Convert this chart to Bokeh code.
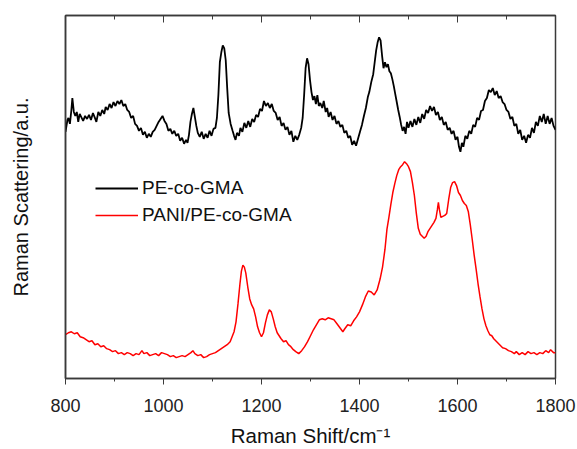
from bokeh.plotting import figure
from bokeh.models import Range1d, SingleIntervalTicker, FixedTicker, LinearAxis, CustomJSTickFormatter
from bokeh.embed import file_html
from bokeh.resources import INLINE

# Raman shift (cm^-1) and scattering intensity (a.u., read downward from top reference)
pe_shift = [800, 804, 806, 809, 812, 814, 817, 820, 823, 826, 829, 832, 836, 840, 844, 848, 852, 856, 860, 863,
            867, 871, 875, 879, 882, 886, 890, 894, 898, 902, 906, 910, 914, 918, 922, 926, 930, 934, 938, 942,
            946, 950, 954, 958, 962, 966, 970, 974, 978, 982, 986, 990, 994, 998, 1002, 1006, 1010, 1014, 1018, 1022,
            1026, 1030, 1034, 1038, 1042, 1046, 1049, 1052, 1055, 1058, 1061, 1064, 1067, 1070, 1074, 1078, 1082, 1086, 1090, 1094,
            1098, 1102, 1106, 1109, 1112, 1115, 1118, 1121, 1124, 1127, 1130, 1133, 1137, 1141, 1144, 1147, 1150, 1154, 1157, 1161,
            1165, 1169, 1173, 1177, 1181, 1185, 1189, 1193, 1197, 1201, 1205, 1209, 1213, 1217, 1221, 1225, 1229, 1233, 1237, 1241,
            1245, 1249, 1253, 1257, 1261, 1265, 1269, 1273, 1277, 1281, 1284, 1287, 1290, 1293, 1296, 1299, 1302, 1305, 1308, 1311,
            1314, 1317, 1320, 1324, 1327, 1331, 1334, 1337, 1341, 1345, 1349, 1353, 1357, 1361, 1365, 1369, 1373, 1377, 1381, 1385,
            1389, 1393, 1397, 1401, 1405, 1409, 1413, 1417, 1420, 1424, 1428, 1431, 1434, 1437, 1440, 1443, 1446, 1449, 1452, 1455,
            1458, 1461, 1464, 1467, 1470, 1473, 1476, 1479, 1482, 1485, 1488, 1491, 1494, 1497, 1500, 1504, 1508, 1512, 1516, 1520,
            1524, 1528, 1532, 1536, 1540, 1544, 1548, 1552, 1556, 1560, 1564, 1568, 1572, 1576, 1580, 1584, 1588, 1592, 1596, 1600,
            1603, 1606, 1609, 1612, 1616, 1620, 1624, 1628, 1632, 1636, 1640, 1644, 1648, 1652, 1656, 1660, 1664, 1668, 1672, 1676,
            1680, 1684, 1688, 1692, 1696, 1700, 1704, 1708, 1712, 1716, 1720, 1724, 1728, 1732, 1736, 1740, 1744, 1748, 1752, 1756,
            1760, 1764, 1768, 1772, 1776, 1780, 1784, 1788, 1792, 1796, 1800]
pe_depth = [132, 120, 118, 124, 110, 98, 112, 116, 112, 122, 114, 117, 121, 116, 119, 115, 120, 113, 118, 122,
            112, 116, 110, 114, 107, 110, 104, 108, 102, 106, 101, 104, 100, 106, 104, 110, 112, 118, 116, 124,
            126, 131, 128, 135, 132, 138, 134, 137, 132, 130, 126, 122, 119, 116, 121, 124, 131, 129, 134, 131,
            136, 134, 141, 138, 144, 140, 143, 135, 122, 114, 108, 117, 126, 133, 137, 132, 139, 134, 138, 131,
            136, 129, 128, 118, 95, 62, 52, 45, 48, 60, 88, 113, 124, 131, 136, 140, 133, 136, 128, 132,
            123, 128, 121, 127, 119, 122, 115, 117, 109, 111, 101, 106, 103, 108, 104, 111, 113, 120, 117, 126,
            123, 130, 127, 135, 131, 142, 136, 140, 135, 128, 118, 95, 68, 58, 64, 80, 92, 100, 96, 104,
            95, 106, 103, 108, 101, 112, 108, 117, 112, 120, 116, 124, 121, 127, 125, 133, 131, 138, 136, 145,
            141, 146, 139, 132, 125, 116, 108, 97, 92, 82, 74, 62, 50, 42, 37, 40, 55, 68, 62, 67,
            64, 71, 73, 79, 86, 94, 102, 110, 117, 125, 131, 127, 134, 122, 128, 121, 127, 119, 125, 117,
            123, 114, 119, 110, 113, 106, 111, 107, 115, 112, 120, 117, 125, 122, 130, 128, 134, 131, 140, 137,
            147, 152, 143, 147, 136, 139, 131, 134, 125, 127, 118, 120, 111, 110, 101, 98, 90, 92, 88, 95,
            91, 98, 96, 102, 104, 110, 112, 119, 117, 126, 124, 134, 130, 140, 136, 143, 135, 138, 128, 133,
            122, 126, 116, 122, 114, 124, 116, 124, 118, 126, 130]

pani_shift = [800, 806, 812, 818, 824, 830, 836, 842, 848, 854, 860, 866, 872, 878, 884, 890, 896, 902, 908, 914,
              920, 926, 932, 938, 944, 950, 956, 960, 966, 972, 978, 984, 990, 996, 1002, 1008, 1014, 1020, 1026, 1032,
              1038, 1044, 1050, 1056, 1060, 1064, 1070, 1076, 1082, 1088, 1094, 1100, 1106, 1112, 1118, 1124, 1130, 1136, 1140, 1144,
              1148, 1152, 1156, 1159, 1162, 1165, 1168, 1172, 1176, 1180, 1184, 1188, 1192, 1196, 1200, 1204, 1208, 1212, 1216, 1220,
              1224, 1228, 1232, 1236, 1240, 1245, 1250, 1255, 1260, 1265, 1270, 1276, 1282, 1288, 1294, 1300, 1306, 1312, 1318, 1324,
              1330, 1336, 1342, 1348, 1354, 1360, 1366, 1370, 1376, 1382, 1388, 1394, 1400, 1406, 1412, 1418, 1424, 1430, 1436, 1442,
              1447, 1452, 1456, 1460, 1464, 1468, 1472, 1476, 1480, 1484, 1488, 1492, 1496, 1500, 1504, 1508, 1512, 1516, 1520, 1524,
              1528, 1532, 1536, 1540, 1544, 1548, 1552, 1556, 1559, 1561, 1563, 1566, 1570, 1574, 1578, 1582, 1586, 1590, 1594, 1598,
              1602, 1606, 1610, 1614, 1618, 1622, 1626, 1630, 1634, 1638, 1642, 1646, 1650, 1654, 1658, 1662, 1666, 1670, 1674, 1680,
              1686, 1692, 1698, 1704, 1710, 1716, 1720, 1726, 1732, 1738, 1744, 1750, 1756, 1762, 1768, 1774, 1780, 1786, 1790, 1796,
              1800]
pani_depth = [336, 334, 333, 335, 334, 338, 339, 341, 343, 342, 346, 345, 348, 347, 350, 351, 353, 352, 355, 354,
              356, 354, 355, 357, 355, 356, 352, 355, 354, 357, 356, 355, 357, 354, 355, 356, 358, 357, 359, 358,
              357, 358, 356, 354, 352, 355, 357, 356, 359, 358, 356, 355, 354, 352, 350, 348, 346, 343, 338, 333,
              323, 305, 285, 272, 266, 268, 274, 288, 300, 306, 310, 318, 328, 334, 338, 334, 324, 316, 311, 313,
              320, 328, 334, 337, 340, 343, 342, 346, 348, 351, 353, 355, 352, 348, 343, 337, 331, 326, 321, 320,
              321, 319, 320, 321, 325, 329, 333, 330, 326, 327, 322, 318, 313, 306, 298, 292, 293, 296, 291, 280,
              268, 250, 230, 218, 205, 193, 184, 176, 170, 167, 165, 162, 164, 167, 172, 183, 196, 214, 229, 235,
              237, 239, 237, 232, 229, 226, 223, 219, 210, 203, 210, 218, 217, 216, 214, 200, 188, 183, 182, 186,
              193, 196, 201, 204, 206, 212, 225, 240, 256, 270, 285, 298, 310, 320, 327, 332, 336, 337, 340, 343,
              346, 349, 350, 352, 353, 355, 353, 356, 354, 356, 353, 355, 354, 356, 354, 355, 352, 354, 351, 354,
              354]

TOP_REF = 380
pe_int = [TOP_REF - v for v in pe_depth]
pani_int = [TOP_REF - v for v in pani_depth]

xticks_major = 200
FONT = "Liberation Sans"
AX = "#3a3a3a"

p = figure(width=577, height=449, output_backend="svg", toolbar_location=None,
           x_range=Range1d(800, 1800), y_range=Range1d(0, 365),
           min_border_left=65, min_border_right=22, min_border_top=15, min_border_bottom=69)
p.grid.visible = False
p.outline_line_color = AX
p.outline_line_width = 1.5
p.background_fill_color = "white"
p.border_fill_color = "white"

p.line(pe_shift, pe_int, line_color="black", line_width=1.8, legend_label="PE-co-GMA")
p.line(pani_shift, pani_int, line_color="#ff0000", line_width=1.5, legend_label="PANI/PE-co-GMA")

xa = p.xaxis[0]
xa.ticker = SingleIntervalTicker(interval=xticks_major, num_minor_ticks=2)
xa.major_tick_in = 0
xa.major_tick_out = 6
xa.minor_tick_in = 0
xa.minor_tick_out = 3
xa.axis_line_color = AX
xa.axis_line_width = 1.5
xa.major_tick_line_color = AX
xa.minor_tick_line_color = AX
xa.major_label_text_font = FONT
xa.major_label_text_font_size = "18px"
xa.major_label_text_color = "#222222"
xa.major_label_standoff = 14
xa.axis_label = "Raman Shift/cm\u207b\u00b9"
xa.axis_label_text_font = FONT
xa.axis_label_text_font_size = "20.5px"
xa.axis_label_text_font_style = "normal"
xa.axis_label_text_color = "#111111"
xa.axis_label_standoff = 9

ya = p.yaxis[0]
ya.ticker = FixedTicker(ticks=[])
ya.axis_line_color = AX
ya.axis_line_width = 1.5
ya.major_tick_line_color = None
ya.minor_tick_line_color = None
ya.axis_label = "Raman Scattering/a.u."
ya.axis_label_text_font = FONT
ya.axis_label_text_font_size = "20px"
ya.axis_label_text_font_style = "normal"
ya.axis_label_text_color = "#111111"
ya.axis_label_standoff = 34

top = LinearAxis(ticker=SingleIntervalTicker(interval=xticks_major, num_minor_ticks=2),
                 formatter=CustomJSTickFormatter(code="return ''"))
top.major_tick_in = 7
top.major_tick_out = 0
top.minor_tick_in = 4
top.minor_tick_out = 0
top.major_tick_line_color = AX
top.minor_tick_line_color = AX
top.axis_line_color = AX
top.axis_line_width = 1.5
top.major_label_standoff = 0
p.add_layout(top, "above")

lg = p.legend[0]
lg.location = (30, 152)
lg.border_line_color = None
lg.background_fill_alpha = 0
lg.padding = 0
lg.margin = 0
lg.spacing = 5
lg.glyph_width = 43
lg.glyph_height = 20
lg.label_height = 20
lg.label_standoff = 4
lg.label_text_font = FONT
lg.label_text_font_size = "19px"
lg.label_text_color = "#111111"

open("out.html", "w").write(file_html(p, INLINE))
